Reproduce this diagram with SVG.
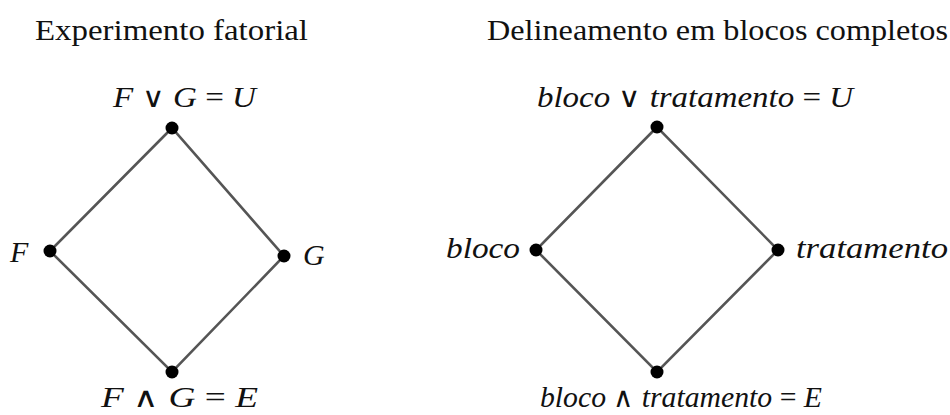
<svg xmlns="http://www.w3.org/2000/svg" width="950" height="415" viewBox="0 0 950 415">
<style>
text{font-family:"Liberation Serif","DejaVu Serif",serif;fill:#111}
.t{font-size:29px}
.m{font-size:30px}
.i{font-style:italic}
.o{font-family:"DejaVu Sans",sans-serif;font-size:28px;font-weight:200}
.e{stroke:#555;stroke-width:2.6;fill:none}
.n{fill:#000}
</style>
<rect width="950" height="415" fill="#fff"/>
<text class="t" x="35" y="40" textLength="273" lengthAdjust="spacingAndGlyphs">Experimento fatorial</text>
<text class="t" x="487" y="40" textLength="461" lengthAdjust="spacingAndGlyphs">Delineamento em blocos completos</text>
<g id="connectors">
<path class="e" d="M172,128L50,251L172,372L284,256Z"/>
<path class="e" d="M657,127L536,250L657,372L778,250Z"/>
</g>
<g id="fU"><circle class="n" cx="172" cy="128" r="6.5"/><text class="m" x="113" y="107" textLength="143" lengthAdjust="spacingAndGlyphs"><tspan class="i">F</tspan> <tspan class="o">∨</tspan> <tspan class="i">G</tspan> = <tspan class="i">U</tspan></text></g>
<g id="fF"><circle class="n" cx="50" cy="251" r="6.5"/><text class="m i" x="10" y="262">F</text></g>
<g id="fG"><circle class="n" cx="284" cy="256" r="6.5"/><text class="m i" x="303" y="265">G</text></g>
<g id="fE"><circle class="n" cx="172" cy="372" r="6.5"/><text class="m" x="101" y="407" textLength="157" lengthAdjust="spacingAndGlyphs"><tspan class="i">F</tspan>   <tspan class="o">∧</tspan> <tspan class="i">G</tspan> = <tspan class="i">E</tspan></text></g>
<g id="bU"><circle class="n" cx="657" cy="127" r="6.5"/><text class="m" x="537" y="107" textLength="316" lengthAdjust="spacingAndGlyphs"><tspan class="i">bloco</tspan> <tspan class="o">∨</tspan> <tspan class="i">tratamento</tspan> = <tspan class="i">U</tspan></text></g>
<g id="bB"><circle class="n" cx="536" cy="250" r="6.5"/><text class="m i" x="446" y="258" textLength="74" lengthAdjust="spacingAndGlyphs">bloco</text></g>
<g id="bT"><circle class="n" cx="778" cy="250" r="6.5"/><text class="m i" x="796" y="258" textLength="152" lengthAdjust="spacingAndGlyphs">tratamento</text></g>
<g id="bE"><circle class="n" cx="657" cy="372" r="6.5"/><text class="m" x="540" y="407" textLength="282" lengthAdjust="spacingAndGlyphs"><tspan class="i">bloco</tspan>   <tspan class="o">∧</tspan> <tspan class="i">tratamento</tspan> = <tspan class="i">E</tspan></text></g>
</svg>
